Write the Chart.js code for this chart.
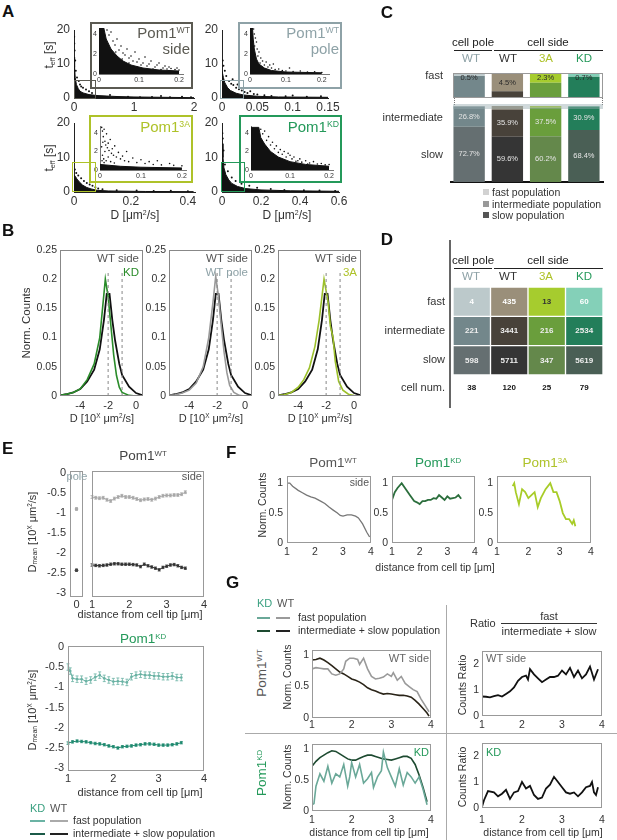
<!DOCTYPE html>
<html>
<head>
<meta charset="utf-8">
<title>Pom1 mobility</title>
<script src="https://cdn.jsdelivr.net/npm/chart.js@4.4.1/dist/chart.umd.min.js"></script>
<style>
  body { margin: 0; background: #fff; }
  #fig { position: relative; width: 617px; height: 840px; overflow: hidden; background: #fff;
         font-family: 'Liberation Sans', Arial, sans-serif; color: #333; }
  #fig canvas { position: absolute; }
  .t { position: absolute; white-space: nowrap; line-height: 1; }
  .r { position: absolute; box-sizing: border-box; }
  sup { font-size: .58em; vertical-align: .55em; line-height: 0; }
  sub { font-size: .6em; vertical-align: -.25em; line-height: 0; }
</style>
</head>
<body>
<div id="fig"></div>
<script>
// ---------- A: t_eff vs D (core = outline of the saturated cloud, pts = stray points) ----------
const aTicksT = [0, 10, 20];
const aTicksSide = [0, 1, 2];
const aTicksPole = [0, 0.05, 0.1, 0.15];
const aTicks3A = [0, 0.2, 0.4];
const aTicksKD = [0, 0.2, 0.4, 0.6];
const aInsetTicksT = [0, 2, 4];
const aInsetTicksD = [0, 0.1, 0.2];

const aSideCore = [[0,12],[0.01,9],[0.02,6],[0.04,4],[0.07,2.8],[0.1,2],[0.15,1.5],[0.25,1],[0.4,0.7],[0.7,0.45],[1.0,0.3],[1.5,0.2],[2.0,0.1]];
const aSidePts = [[0.003,18],[0.005,16],[0.01,14],[0.02,11],[0.03,8],[0.05,6],[0.08,5],[0.1,4],[0.12,3.4],[0.15,3],[0.2,2.5],[0.25,2],[0.3,1.5],[0.5,0.3],[0.6,0.9],[0.7,0.2],[0.9,0.4],[1.1,0.2],[1.3,0.3],[1.45,0.6],[1.6,0.2],[1.8,0.4],[1.95,0.2]];
const aPoleCore = [[0,8],[0.002,6],[0.004,4.5],[0.008,3],[0.012,2.2],[0.02,1.4],[0.03,0.9],[0.05,0.5],[0.08,0.3],[0.15,0.2]];
const aPolePts = [[0.001,11],[0.002,9.5],[0.004,8],[0.006,6.5],[0.01,5],[0.015,5.5],[0.013,4.2],[0.016,3.8],[0.022,4],[0.02,3],[0.024,2.6],[0.028,2.2],[0.032,1.8],[0.036,1.5],[0.04,2],[0.045,1.2],[0.05,1],[0.06,0.8],[0.07,0.6],[0.09,0.5],[0.1,0.7],[0.12,0.4],[0.14,0.5]];
const a3ACore = [[0,5],[0.005,4.5],[0.01,3.8],[0.02,2.8],[0.03,2],[0.045,1.3],[0.06,0.9],[0.08,0.5],[0.12,0.3],[0.25,0.15],[0.42,0.1]];
const a3APts = [[0.003,6.5],[0.008,5.5],[0.015,4.8],[0.025,4],[0.035,3.2],[0.045,2.6],[0.055,2.2],[0.065,1.8],[0.075,1.4],[0.085,1],[0.1,0.8],[0.15,0.5],[0.22,0.4],[0.28,0.3],[0.34,0.35],[0.4,0.25]];
const aKDCore = [[0,14],[0.005,10],[0.01,7],[0.02,5],[0.035,3.5],[0.05,2.5],[0.08,1.6],[0.12,1],[0.2,0.6],[0.35,0.35],[0.6,0.2]];
const aKDPts = [[0.002,17],[0.004,15.5],[0.008,12],[0.015,8],[0.03,6],[0.05,4.2],[0.07,3.2],[0.1,2.4],[0.14,1.8],[0.18,1.2],[0.25,0.9],[0.32,0.6],[0.42,0.5],[0.5,0.4],[0.58,0.3]];

const aSideInCore = [[0,4.6],[0.012,4.6],[0.018,3.5],[0.03,2.5],[0.045,1.8],[0.06,1.3],[0.08,0.9],[0.11,0.6],[0.15,0.4],[0.2,0.3]];
const aSideInPts = [[0.02,4.4],[0.025,3.9],[0.03,4.2],[0.035,3.3],[0.04,2.9],[0.045,3.5],[0.05,2.4],[0.055,2.8],[0.06,2.1],[0.065,1.9],[0.07,2.5],[0.075,1.6],[0.08,1.8],[0.085,1.3],[0.09,2.2],[0.095,1.2],[0.1,1.5],[0.105,0.9],[0.11,1.1],[0.115,1.7],[0.12,0.8],[0.125,1.0],[0.13,1.3],[0.14,0.7],[0.145,0.9],[0.15,1.1],[0.16,0.6],[0.165,0.8],[0.17,0.5],[0.175,0.7],[0.18,0.55],[0.19,0.45],[0.195,0.6],[0.2,0.4],[0.135,0.5],[0.155,0.45],[0.095,0.7],[0.075,1.1],[0.058,1.5],[0.042,2.2]];
const aPoleInCore = [[0,4.6],[0.007,4.6],[0.009,3.5],[0.012,2.5],[0.018,1.5],[0.025,1],[0.04,0.6],[0.06,0.35],[0.1,0.2],[0.2,0.12]];
const aPoleInPts = [[0.01,4.5],[0.012,4],[0.015,3.6],[0.018,3.2],[0.013,2.8],[0.02,2.5],[0.025,2.2],[0.022,1.8],[0.03,1.6],[0.035,1.3],[0.028,1.1],[0.04,0.9],[0.045,1.2],[0.05,0.7],[0.06,0.6],[0.055,0.9],[0.07,0.45],[0.08,0.5],[0.09,0.35],[0.1,0.3],[0.12,0.25],[0.14,0.3],[0.16,0.2],[0.18,0.22],[0.2,0.15],[0.11,0.6],[0.065,1.0]];
const a3AInCore = [[0,0.6],[0.05,0.4],[0.1,0.3],[0.2,0.22]];
const a3AInPts = [[0.004,4.6],[0.006,4.2],[0.008,3.6],[0.01,4.4],[0.012,3.1],[0.014,2.7],[0.016,3.9],[0.018,2.4],[0.02,2.9],[0.022,2.1],[0.025,3.3],[0.028,1.8],[0.03,2.3],[0.033,1.6],[0.036,2.6],[0.04,1.4],[0.045,1.9],[0.05,1.2],[0.055,1.5],[0.06,1.0],[0.065,2.0],[0.07,0.9],[0.08,1.3],[0.09,0.8],[0.1,1.1],[0.11,0.7],[0.12,0.9],[0.13,0.6],[0.14,1.0],[0.15,0.55],[0.17,0.7],[0.18,0.5],[0.2,0.45],[0.006,1.6],[0.009,1.2],[0.012,2.0],[0.015,1.0],[0.02,1.4],[0.026,0.9],[0.035,0.75],[0.004,2.5],[0.007,3.0],[0.005,1.0],[0.01,0.8]];
const aKDInCore = [[0,4.6],[0.02,4.6],[0.025,3.5],[0.035,2.8],[0.05,2],[0.07,1.4],[0.1,0.9],[0.14,0.6],[0.2,0.4]];
const aKDInPts = [[0.025,4.4],[0.03,3.9],[0.035,4.2],[0.04,3.2],[0.045,3.6],[0.05,2.7],[0.055,3.0],[0.06,2.3],[0.065,2.6],[0.07,1.9],[0.075,2.2],[0.08,1.7],[0.085,2.0],[0.09,1.4],[0.1,1.6],[0.105,1.2],[0.11,1.4],[0.12,1.0],[0.125,1.2],[0.13,0.85],[0.14,1.0],[0.15,0.75],[0.16,0.9],[0.17,0.65],[0.18,0.7],[0.19,0.55],[0.2,0.6],[0.115,0.95],[0.145,0.65],[0.095,1.8]];

// ---------- B: normalised histograms of log10 D ----------
const bTicksX = [-4, -2, 0];
const bTicksY = [0, 0.05, 0.1, 0.15, 0.2, 0.25];
const bSide = [[-5.45,0.001],[-5,0.003],[-4.5,0.006],[-4,0.012],[-3.5,0.025],[-3,0.045],[-2.6,0.08],[-2.3,0.13],[-2.1,0.175],[-1.9,0.175],[-1.7,0.13],[-1.5,0.095],[-1.2,0.055],[-1,0.036],[-0.5,0.016],[0,0.005],[0.5,0.001]];
const bKD = [[-5.45,0.001],[-5,0.003],[-4.5,0.006],[-4,0.012],[-3.5,0.028],[-3,0.055],[-2.6,0.1],[-2.4,0.15],[-2.2,0.2],[-2,0.17],[-1.8,0.12],[-1.6,0.07],[-1.4,0.035],[-1.2,0.015],[-1,0.006],[-0.5,0.001],[0,0]];
const bPole = [[-5.45,0.001],[-5,0.002],[-4.5,0.005],[-4,0.01],[-3.5,0.022],[-3,0.05],[-2.6,0.1],[-2.3,0.16],[-2.1,0.205],[-1.9,0.17],[-1.7,0.12],[-1.5,0.075],[-1.3,0.04],[-1.1,0.018],[-0.8,0.006],[-0.4,0.001],[0,0]];
const b3A = [[-5.45,0.001],[-5,0.002],[-4.5,0.006],[-4,0.015],[-3.6,0.028],[-3.2,0.048],[-2.8,0.085],[-2.5,0.13],[-2.3,0.17],[-2.15,0.2],[-2,0.18],[-1.85,0.16],[-1.7,0.12],[-1.5,0.1],[-1.35,0.06],[-1.1,0.025],[-0.8,0.01],[-0.4,0.003],[0,0.001]];
const bCutSlow = [[-2,0],[-2,0.215]];
const bCutFast = [[-1,0],[-1,0.215]];

// ---------- C / D: populations per condition (WT pole, WT side, 3A, KD) ----------
const condNames = ['WT', 'WT', '3A', 'KD'];
const fastPct = [0.5, 4.5, 2.3, 0.7];
const intPct = [26.8, 35.9, 37.5, 30.9];
const slowPct = [72.7, 59.6, 60.2, 68.4];
const fastN = [4, 435, 13, 60];
const intN = [221, 3441, 216, 2534];
const slowN = [598, 5711, 347, 5619];
const cellNum = [38, 120, 25, 79];
const popRows = ['slow', 'intermediate', 'fast'];

// ---------- E: D_mean along the cell (log10 units) ----------
const eTicksY = [0, -0.5, -1, -1.5, -2, -2.5, -3];
const eTicksX = [1, 2, 3, 4];
const eTicksPole = [0];
const ePoleFast = [[0,-0.9]];
const ePoleSlow = [[0,-2.43]];
const eWTfast = [[1.0,-0.6],[1.1,-0.62],[1.2,-0.63],[1.3,-0.62],[1.4,-0.67],[1.5,-0.7],[1.6,-0.64],[1.7,-0.6],[1.8,-0.57],[1.9,-0.6],[2.0,-0.6],[2.1,-0.62],[2.2,-0.65],[2.3,-0.68],[2.4,-0.66],[2.5,-0.65],[2.6,-0.67],[2.7,-0.64],[2.8,-0.6],[2.9,-0.57],[3.0,-0.56],[3.1,-0.56],[3.2,-0.55],[3.3,-0.55],[3.4,-0.53],[3.5,-0.48]];
const eWTslow = [[1.0,-2.3],[1.1,-2.31],[1.2,-2.32],[1.3,-2.31],[1.4,-2.3],[1.5,-2.28],[1.6,-2.27],[1.7,-2.27],[1.8,-2.28],[1.9,-2.28],[2.0,-2.28],[2.1,-2.29],[2.2,-2.3],[2.3,-2.34],[2.4,-2.28],[2.5,-2.32],[2.6,-2.35],[2.7,-2.38],[2.8,-2.42],[2.9,-2.36],[3.0,-2.33],[3.1,-2.3],[3.2,-2.29],[3.3,-2.32],[3.4,-2.36],[3.5,-2.38]];
const eKDfast = [[1.0,-0.5],[1.05,-0.6],[1.1,-0.78],[1.2,-0.8],[1.3,-0.8],[1.4,-0.85],[1.5,-0.82],[1.6,-0.75],[1.7,-0.7],[1.8,-0.78],[1.9,-0.82],[2.0,-0.86],[2.1,-0.85],[2.2,-0.86],[2.3,-0.88],[2.4,-0.74],[2.5,-0.7],[2.6,-0.68],[2.7,-0.7],[2.8,-0.7],[2.9,-0.72],[3.0,-0.72],[3.1,-0.74],[3.2,-0.74],[3.3,-0.72],[3.4,-0.76],[3.5,-0.76]];
const eKDslow = [[1.0,-2.38],[1.1,-2.35],[1.2,-2.33],[1.3,-2.34],[1.4,-2.35],[1.5,-2.37],[1.6,-2.39],[1.7,-2.4],[1.8,-2.42],[1.9,-2.45],[2.0,-2.47],[2.1,-2.5],[2.2,-2.47],[2.3,-2.46],[2.4,-2.45],[2.5,-2.43],[2.6,-2.42],[2.7,-2.4],[2.8,-2.4],[2.9,-2.41],[3.0,-2.43],[3.1,-2.43],[3.2,-2.43],[3.3,-2.42],[3.4,-2.4],[3.5,-2.37]];
const eErrWTfast = 0.035, eErrWTslow = 0.03, eErrKDfast = 0.08, eErrKDslow = 0.03;

// ---------- F: normalised counts along the cell ----------
const fTicksY = [0, 0.5, 1];
const fTicksX = [1, 2, 3, 4];
const fWT = [[1,1],[1.1,1],[1.2,0.95],[1.4,0.88],[1.55,0.84],[1.7,0.8],[1.85,0.77],[2.0,0.75],[2.2,0.7],[2.35,0.66],[2.5,0.6],[2.65,0.55],[2.8,0.5],[2.9,0.46],[3.0,0.45],[3.15,0.47],[3.3,0.47],[3.45,0.45],[3.55,0.42],[3.7,0.32],[3.85,0.18],[3.95,0.1]];
const fKD = [[1.0,0.72],[1.1,0.85],[1.2,0.92],[1.35,1.0],[1.5,0.9],[1.65,0.8],[1.8,0.7],[1.9,0.68],[2.0,0.65],[2.1,0.7],[2.2,0.7],[2.3,0.72],[2.4,0.72],[2.5,0.75],[2.6,0.74],[2.7,0.8],[2.8,0.76],[2.9,0.72],[3.0,0.78],[3.1,0.74],[3.2,0.75],[3.3,0.76],[3.4,0.8],[3.5,0.74]];
const f3A = [[1.5,0.95],[1.55,1.0],[1.6,0.85],[1.7,0.65],[1.8,0.9],[1.9,0.85],[2.0,0.75],[2.1,0.8],[2.2,0.85],[2.3,0.6],[2.4,0.75],[2.55,0.9],[2.7,1.0],[2.8,0.85],[2.9,0.85],[3.0,0.7],[3.1,0.5],[3.2,0.4],[3.3,0.4],[3.4,0.32],[3.45,0.38],[3.5,0.28]];

// ---------- G: fast vs intermediate+slow along the cell, and their ratio ----------
const gTicksY = [0, 0.5, 1];
const gTicksRatio = [0, 1, 2];
const gTicksX = [1, 2, 3, 4];
const gWTslow = [[1,0.92],[1.1,0.93],[1.2,0.95],[1.3,0.92],[1.4,0.88],[1.5,0.83],[1.6,0.78],[1.7,0.73],[1.8,0.7],[1.9,0.66],[2.0,0.62],[2.1,0.6],[2.2,0.57],[2.3,0.53],[2.4,0.48],[2.5,0.45],[2.6,0.43],[2.7,0.4],[2.8,0.38],[2.9,0.39],[3.0,0.38],[3.1,0.37],[3.2,0.36],[3.3,0.36],[3.4,0.35],[3.5,0.33],[3.6,0.28],[3.7,0.22],[3.8,0.15],[3.9,0.08],[3.95,0.03]];
const gWTfast = [[1,0.78],[1.1,0.8],[1.2,0.79],[1.3,0.78],[1.4,0.78],[1.5,0.7],[1.6,0.68],[1.7,0.7],[1.8,0.78],[1.85,0.9],[1.95,0.95],[2.05,0.95],[2.15,0.93],[2.2,0.85],[2.3,0.95],[2.4,0.78],[2.5,0.66],[2.6,0.62],[2.7,0.63],[2.8,0.65],[2.9,0.7],[3.0,0.66],[3.05,0.72],[3.15,0.6],[3.25,0.66],[3.35,0.55],[3.45,0.5],[3.55,0.45],[3.65,0.42],[3.75,0.3],[3.85,0.2],[3.95,0.1]];
const gKDslow = [[1,0.72],[1.1,0.8],[1.2,0.86],[1.3,0.9],[1.4,0.94],[1.5,0.97],[1.6,0.96],[1.7,0.92],[1.8,0.88],[1.9,0.84],[2.0,0.82],[2.1,0.82],[2.2,0.85],[2.3,0.88],[2.4,0.9],[2.5,0.9],[2.6,0.88],[2.7,0.86],[2.8,0.84],[2.9,0.83],[3.0,0.82],[3.1,0.84],[3.2,0.86],[3.3,0.88],[3.4,0.88],[3.5,0.85],[3.6,0.75],[3.7,0.58],[3.8,0.38],[3.9,0.15]];
const gKDfast = [[1,0.1],[1.05,0.12],[1.1,0.4],[1.2,0.6],[1.3,0.48],[1.4,0.72],[1.5,0.45],[1.6,0.6],[1.7,0.55],[1.8,0.75],[1.9,0.4],[1.95,0.55],[2.0,0.78],[2.1,0.55],[2.2,0.75],[2.3,0.45],[2.4,0.52],[2.5,0.62],[2.55,0.38],[2.65,0.55],[2.75,0.65],[2.8,0.95],[2.9,0.7],[3.0,0.55],[3.1,0.4],[3.2,0.68],[3.3,0.42],[3.4,0.62],[3.5,0.55],[3.6,0.45],[3.7,0.55],[3.8,0.35],[3.9,0.1]];
const gWTratio = [[1,0.75],[1.1,0.74],[1.2,0.72],[1.3,0.76],[1.4,0.8],[1.5,0.75],[1.6,0.85],[1.7,0.95],[1.8,1.1],[1.9,1.35],[2.0,1.5],[2.1,1.55],[2.15,1.4],[2.2,1.8],[2.3,1.6],[2.4,1.45],[2.5,1.3],[2.6,1.4],[2.7,1.5],[2.8,1.5],[2.9,1.55],[3.0,1.75],[3.1,1.6],[3.2,1.85],[3.3,1.5],[3.4,1.75],[3.5,1.45],[3.6,1.6],[3.7,1.9],[3.8,1.4],[3.9,1.8]];
const gKDratio = [[1,0.05],[1.05,0.3],[1.15,0.65],[1.3,0.6],[1.4,0.45],[1.5,0.55],[1.6,0.7],[1.7,0.35],[1.8,0.6],[1.9,0.65],[2.0,1.0],[2.1,0.75],[2.2,0.85],[2.3,0.5],[2.4,0.35],[2.5,0.4],[2.6,0.75],[2.7,0.9],[2.8,1.2],[2.9,1.0],[3.0,0.8],[3.1,0.6],[3.2,0.55],[3.3,0.6],[3.4,0.45],[3.5,0.6],[3.6,0.8],[3.7,0.85],[3.75,1.0],[3.8,0.6],[3.85,0.5],[3.9,0.8]];

// ---------- colours ----------
const colWTpole = '#8ea2a7', colWTside = '#5b5a52', col3A = '#aec229', colKD = '#24995a';
const fastCol = ['#bcc9cb', '#9a8f7a', '#a6cc2e', '#84d0b8'];
const intCol = ['#73878b', '#48423a', '#6a9e3c', '#237e5a'];
const slowCol = ['#656f71', '#353535', '#64884b', '#4a5f55'];

Chart.defaults.font.family = "'Liberation Sans', Arial, sans-serif";
Chart.defaults.color = '#333';

// box around the plotting area (MATLAB style)
Chart.register({
  id: 'frame',
  afterDraw(chart, args, o) {
    if (!o.color) return;
    const {ctx, chartArea: a} = chart;
    ctx.save();
    ctx.strokeStyle = o.color;
    ctx.lineWidth = 1;
    ctx.strokeRect(a.left + 0.5, a.top + 0.5, a.width - 1, a.height - 1);
    ctx.restore();
  },
});

// symmetric error bars for datasets carrying an `err` value
Chart.register({
  id: 'errBars',
  afterDatasetsDraw(chart) {
    const {ctx} = chart;
    const ys = chart.scales.y;
    chart.data.datasets.forEach((ds, i) => {
      if (!ds.err) return;
      ctx.save();
      ctx.strokeStyle = ds.borderColor;
      ctx.lineWidth = 0.8;
      chart.getDatasetMeta(i).data.forEach((pt, j) => {
        const v = ds.data[j].y;
        const a = ys.getPixelForValue(v + ds.err), b = ys.getPixelForValue(v - ds.err);
        ctx.beginPath();
        ctx.moveTo(pt.x, a); ctx.lineTo(pt.x, b);
        ctx.moveTo(pt.x - 1.5, a); ctx.lineTo(pt.x + 1.5, a);
        ctx.moveTo(pt.x - 1.5, b); ctx.lineTo(pt.x + 1.5, b);
        ctx.stroke();
      });
      ctx.restore();
    });
  },
});

// text in the middle of each (visible part of a) bar segment
Chart.register({
  id: 'tags',
  afterDatasetsDraw(chart) {
    const {ctx, chartArea: a} = chart;
    chart.data.datasets.forEach((ds, i) => {
      if (!ds.tags) return;
      chart.getDatasetMeta(i).data.forEach((bar, j) => {
        const top = Math.max(Math.min(bar.y, bar.base), a.top);
        const bot = Math.min(Math.max(bar.y, bar.base), a.bottom);
        if (bot <= top) return;
        const y = Math.max((top + bot) / 2, a.top + 4);
        ctx.save();
        ctx.font = ds.tagFont;
        ctx.fillStyle = Array.isArray(ds.tagColor) ? ds.tagColor[j] : ds.tagColor;
        ctx.textAlign = 'center';
        ctx.textBaseline = 'middle';
        ctx.fillText(ds.tags[j], bar.x, y);
        ctx.restore();
      });
    });
  },
});

const fig = document.getElementById('fig');

function txt(x, y, html, o = {}) {
  const d = document.createElement('div');
  d.className = 't';
  d.innerHTML = html;
  const tx = o.a === 'l' ? '0' : o.a === 'r' ? '-100%' : '-50%';
  d.style.cssText += `left:${x}px;top:${y}px;font-size:${o.s || 11}px;color:${o.c || '#333'};` +
    `font-weight:${o.b ? 'bold' : 'normal'};transform:translate(${tx},-50%)${o.rot ? ' rotate(-90deg)' : ''}`;
  fig.appendChild(d);
}

function rect(x, y, w, h, css) {
  const d = document.createElement('div');
  d.className = 'r';
  d.style.cssText += `left:${x}px;top:${y}px;width:${w}px;height:${h}px;${css}`;
  fig.appendChild(d);
}

// area = plotting box on the page [x0, y0, x1, y1]; m = room for axes [left, top, right, bottom]
function place(area, m, config) {
  const [x0, y0, x1, y1] = area, [ml, mt, mr, mb] = m;
  const w = x1 - x0 + ml + mr, h = y1 - y0 + mt + mb;
  const c = document.createElement('canvas');
  c.width = w; c.height = h;
  c.style.left = (x0 - ml) + 'px';
  c.style.top = (y0 - mt) + 'px';
  fig.appendChild(c);
  const o = config.options;
  o.responsive = false;
  o.animation = false;
  o.events = [];
  o.layout = {autoPadding: false, padding: {left: 0, top: mt, right: mr, bottom: 0}};
  o.plugins = Object.assign({legend: {display: false}, tooltip: {enabled: false}}, o.plugins);
  o.scales.x.afterFit = s => { s.height = mb; s.paddingLeft = 0; s.paddingRight = 0; };
  o.scales.y.afterFit = s => { s.width = ml; s.paddingTop = 0; s.paddingBottom = 0; };
  return new Chart(c, config);
}

function lin(min, max, ticks, o = {}) {
  return {
    type: 'linear', min, max,
    grid: {display: false, drawTicks: false},
    border: {display: !!o.bc, color: o.bc, width: o.bw || 1},
    ticks: {
      display: ticks.length > 0, autoSkip: false, maxRotation: 0, padding: o.pad ?? 3,
      font: {size: o.fs || 11}, color: '#333',
      callback: v => String(v),
    },
    afterBuildTicks: s => { s.ticks = ticks.map(v => ({value: v})); },
  };
}

const pts = a => a.map(([x, y]) => ({x, y}));
function line(a, color, w, extra = {}) {
  return Object.assign({data: pts(a), showLine: true, borderColor: color, borderWidth: w,
    pointRadius: 0, fill: false, tension: 0}, extra);
}
function dots(a, color, r) {
  return {data: pts(a), showLine: false, pointRadius: r, pointBorderWidth: 0,
    pointBackgroundColor: color, backgroundColor: color};
}

function scat(area, m, xr, yr, xt, yt, core, stray, o) {
  return place(area, m, {
    type: 'scatter',
    data: {datasets: [
      line(core, '#111', 1, {fill: 'origin', backgroundColor: '#111'}),
      dots(stray, '#111', o.r),
    ]},
    options: {scales: {
      x: lin(xr[0], xr[1], xt, {fs: o.fs, pad: o.px, bc: o.bc}),
      y: lin(yr[0], yr[1], yt, {fs: o.fs, pad: o.py, bc: o.bc}),
    }},
  });
}

// ================= A =================
const mainOpt = {fs: 12, px: 2, py: 4, bc: '#222', r: 1};
const inOpt = {fs: 7, px: 1.5, py: 2, bc: '#777', r: 0.8};
scat([74, 30, 194, 98], [30, 6, 12, 18], [0, 2], [0, 20], aTicksSide, aTicksT, aSideCore, aSidePts, mainOpt);
scat([222, 30, 328, 98], [30, 6, 14, 18], [0, 0.15], [0, 20], aTicksPole, aTicksT, aPoleCore, aPolePts, mainOpt);
scat([74, 123, 195, 192], [30, 6, 12, 18], [0, 0.425], [0, 20], aTicks3A, aTicksT, a3ACore, a3APts, mainOpt);
scat([222, 123, 339, 192], [30, 6, 12, 18], [0, 0.6], [0, 20], aTicksKD, aTicksT, aKDCore, aKDPts, mainOpt);

rect(90, 22, 103, 67, `background:#fff;border:2px solid ${colWTside}`);
rect(238, 22, 104, 67, `background:#fff;border:2px solid ${colWTpole}`);
rect(89, 115, 104, 68, `background:#fff;border:2px solid ${col3A}`);
rect(239, 115, 103, 68, `background:#fff;border:2px solid ${colKD}`);

scat([99, 28, 183, 74], [9, 4, 8, 10], [0, 0.21], [0, 4.6], aInsetTicksD, aInsetTicksT, aSideInCore, aSideInPts, inOpt);
scat([250, 28, 329, 74], [9, 4, 8, 10], [0, 0.22], [0, 4.6], aInsetTicksD, aInsetTicksT, aPoleInCore, aPoleInPts, inOpt);
scat([100, 126, 186, 170], [9, 4, 8, 10], [0, 0.21], [0, 4.75], aInsetTicksD, aInsetTicksT, a3AInCore, a3AInPts, inOpt);
scat([251, 126, 333, 170], [9, 4, 8, 10], [0, 0.21], [0, 4.75], aInsetTicksD, aInsetTicksT, aKDInCore, aKDInPts, inOpt);

rect(74, 80, 22, 19, `border:1.5px solid ${colWTside}`);
rect(220, 80, 24, 19, `border:1.5px solid ${colWTpole}`);
rect(72, 162, 24, 30, `border:1.5px solid ${col3A}`);
rect(221, 162, 24, 30, `border:1.5px solid ${colKD}`);

txt(2, 11, 'A', {a: 'l', s: 17, b: 1, c: '#111'});
txt(49, 55, 't<sub>eff</sub> [s]', {rot: 1, s: 12});
txt(49, 158, 't<sub>eff</sub> [s]', {rot: 1, s: 12});
txt(135, 215, 'D [μm<sup>2</sup>/s]', {s: 12});
txt(287, 215, 'D [μm<sup>2</sup>/s]', {s: 12});
txt(190, 32, 'Pom1<sup>WT</sup>', {a: 'r', s: 15, c: colWTside});
txt(190, 48, 'side', {a: 'r', s: 15, c: colWTside});
txt(339, 32, 'Pom1<sup>WT</sup>', {a: 'r', s: 15, c: colWTpole});
txt(339, 48, 'pole', {a: 'r', s: 15, c: colWTpole});
txt(190, 126, 'Pom1<sup>3A</sup>', {a: 'r', s: 15, c: col3A});
txt(339, 126, 'Pom1<sup>KD</sup>', {a: 'r', s: 15, c: colKD});

// ================= B =================
function bPlot(area, other, otherColor) {
  return place(area, [30, 8, 6, 20], {
    type: 'scatter',
    data: {datasets: [
      line(bCutSlow, '#888', 1, {borderDash: [3, 3]}),
      line(bCutFast, '#888', 1, {borderDash: [3, 3]}),
      line(other, otherColor, 1.6),
      line(bSide, '#111', 1.8),
    ]},
    options: {
      plugins: {frame: {color: '#888'}},
      scales: {x: lin(-5.45, 0.5, bTicksX, {fs: 11, pad: 3}), y: lin(0, 0.25, bTicksY, {fs: 10.5, pad: 3})},
    },
  });
}
bPlot([60, 250, 143, 396], bKD, '#2a8c2a');
bPlot([169, 250, 252, 396], bPole, '#999');
bPlot([278, 250, 361, 396], b3A, '#9cc02a');

txt(2, 230, 'B', {a: 'l', s: 17, b: 1, c: '#111'});
txt(27, 323, 'Norm. Counts', {rot: 1, s: 11.5});
[102, 211, 320].forEach(x => txt(x, 418, 'D [10<sup>X</sup> μm<sup>2</sup>/s]', {s: 11}));
txt(139, 259, 'WT side', {a: 'r', s: 11.5, c: '#555'});
txt(139, 273, 'KD', {a: 'r', s: 11.5, c: '#2a8c2a'});
txt(248, 259, 'WT side', {a: 'r', s: 11.5, c: '#555'});
txt(248, 273, 'WT pole', {a: 'r', s: 11.5, c: colWTpole});
txt(357, 259, 'WT side', {a: 'r', s: 11.5, c: '#555'});
txt(357, 273, '3A', {a: 'r', s: 11.5, c: col3A});

// ================= C =================
function cBars(area, ymin, tagged) {
  const pct = v => v + '%';
  const mk = (vals, col, key) => ({
    data: vals, backgroundColor: col, borderWidth: 0, stack: 's',
    barPercentage: 0.82, categoryPercentage: 1,
    tags: tagged[key] ? vals.map(pct) : undefined,
    tagColor: tagged[key], tagFont: '7.5px "Liberation Sans", Arial, sans-serif',
  });
  return place(area, [0, 2, 2, ymin === 0 ? 3 : 2], {
    type: 'bar',
    data: {labels: condNames, datasets: [
      mk(slowPct, slowCol, 'slow'), mk(intPct, intCol, 'int'), mk(fastPct, fastCol, 'fast'),
    ]},
    options: {scales: {
      x: {type: 'category', stacked: true, grid: {display: false, drawTicks: false},
          border: {display: ymin === 0, color: '#111', width: 2}, ticks: {display: false}},
      y: {type: 'linear', stacked: true, min: ymin, max: 100, grid: {display: false, drawTicks: false},
          border: {display: false}, ticks: {display: false}},
    }},
  });
}
cBars([450, 74, 603, 97], 94, {fast: '#2a2a2a'});
cBars([450, 106, 603, 182], 0, {int: '#e4e4e4', slow: '#e4e4e4'});
rect(453, 73, 150, 25, 'border:1px solid #999');
rect(454, 98, 1, 7, 'border-left:1px dotted #777');
rect(602, 98, 1, 7, 'border-left:1px dotted #777');
rect(453, 104, 150, 5, 'background:rgba(150,170,176,0.45)');

txt(387, 12, 'C', {s: 17, b: 1, c: '#111'});
function colHeads(y) {
  txt(473, y, 'cell pole', {s: 11.5, c: '#222'});
  rect(454, y + 7, 38, 1, 'background:#222');
  txt(548, y, 'cell side', {s: 11.5, c: '#222'});
  rect(494, y + 7, 109, 1, 'background:#222');
  const cc = [colWTpole, '#333', col3A, colKD];
  [471, 508, 546, 584].forEach((x, i) => txt(x, y + 16, condNames[i], {s: 11.5, c: cc[i]}));
}
colHeads(43);
txt(443, 75, 'fast', {a: 'r', s: 11});
txt(443, 117, 'intermediate', {a: 'r', s: 11});
txt(443, 154, 'slow', {a: 'r', s: 11});
[['fast population', '#d2d2d2'], ['intermediate population', '#999'], ['slow population', '#555']]
  .forEach(([s, c], i) => {
    rect(483, 189 + i * 11.5, 6, 6, 'background:' + c);
    txt(492, 192 + i * 11.5, s, {a: 'l', s: 10.5, c: '#333'});
  });

// ================= D =================
const dFont = 'bold 8px "Liberation Sans", Arial, sans-serif';
const dCell = (n, col, tc) => ({
  data: n.map(() => 1), backgroundColor: col, borderColor: '#fff', borderWidth: 1, borderSkipped: false,
  stack: 's', barPercentage: 1, categoryPercentage: 1,
  tags: n.map(String), tagColor: tc, tagFont: dFont,
});
place([453, 287, 603, 375], [80, 2, 4, 20], {
  type: 'bar',
  data: {labels: cellNum.map(String), datasets: [
    dCell(slowN, slowCol, '#eee'),
    dCell(intN, intCol, '#eee'),
    dCell(fastN, fastCol, ['#fff', '#fff', '#333', '#fff']),
  ]},
  options: {scales: {
    x: {type: 'category', stacked: true, grid: {display: false, drawTicks: false}, border: {display: false},
        ticks: {padding: 8, font: {size: 8, weight: 'bold'}, color: '#111'}},
    y: {type: 'linear', stacked: true, min: 0, max: 3, grid: {display: false, drawTicks: false},
        border: {display: false},
        ticks: {padding: 8, font: {size: 11}, color: '#333', callback: v => popRows[Math.floor(v)]},
        afterBuildTicks: s => { s.ticks = popRows.map((r, i) => ({value: i + 0.5})); }},
  }},
});
txt(387, 239, 'D', {s: 17, b: 1, c: '#111'});
rect(449, 240, 1.5, 168, 'background:#666');
colHeads(261);
txt(445, 387, 'cell num.', {a: 'r', s: 11});

// ================= E =================
const eLine = (a, c, err) => line(a, c, 1, {pointRadius: 1.3, pointBorderWidth: 0, pointBackgroundColor: c, err});
place([70, 471, 83, 597], [40, 6, 6, 16], {
  type: 'scatter',
  data: {datasets: [
    Object.assign(dots(ePoleFast, '#aaa', 1.8), {borderColor: '#aaa', err: eErrWTfast}),
    Object.assign(dots(ePoleSlow, '#444', 1.8), {borderColor: '#444', err: eErrWTslow}),
  ]},
  options: {plugins: {frame: {color: '#999'}}, scales: {
    x: lin(-0.6, 0.6, eTicksPole, {fs: 11, pad: 1}),
    y: lin(-3.1, 0.05, eTicksY, {fs: 11, pad: 4}),
  }},
});
place([92, 471, 204, 597], [2, 6, 10, 16], {
  type: 'scatter',
  data: {datasets: [eLine(eWTfast, '#a8a8a8', eErrWTfast), eLine(eWTslow, '#333', eErrWTslow)]},
  options: {plugins: {frame: {color: '#999'}}, scales: {
    x: lin(1, 4, eTicksX, {fs: 11, pad: 1}),
    y: lin(-3.1, 0.05, [], {}),
  }},
});
place([68, 646, 204, 771], [40, 6, 10, 16], {
  type: 'scatter',
  data: {datasets: [eLine(eKDfast, '#6bb3a4', eErrKDfast), eLine(eKDslow, '#1f8a70', eErrKDslow)]},
  options: {plugins: {frame: {color: '#999'}}, scales: {
    x: lin(1, 4, eTicksX, {fs: 11, pad: 1}),
    y: lin(-3.07, 0.02, eTicksY, {fs: 11, pad: 4}),
  }},
});
txt(2, 448, 'E', {a: 'l', s: 17, b: 1, c: '#111'});
txt(143, 456, 'Pom1<sup>WT</sup>', {s: 13.5, c: '#444'});
txt(77, 476, 'pole', {s: 11, c: colWTpole});
txt(202, 476, 'side', {a: 'r', s: 11, c: '#555'});
txt(32, 532, 'D<sub>mean</sub> [10<sup>X</sup> μm<sup>2</sup>/s]', {rot: 1, s: 11});
txt(140, 614, 'distance from cell tip [μm]', {s: 11});
txt(143, 639, 'Pom1<sup>KD</sup>', {s: 13.5, c: colKD});
txt(32, 710, 'D<sub>mean</sub> [10<sup>X</sup> μm<sup>2</sup>/s]', {rot: 1, s: 11});
txt(140, 792, 'distance from cell tip [μm]', {s: 11});
txt(30, 808, 'KD', {a: 'l', s: 11, c: '#3aa080'});
txt(50, 808, 'WT', {a: 'l', s: 11, c: '#555'});
rect(30, 820, 15, 1.5, 'background:#6bb3a4');
rect(50, 820, 18, 1.5, 'background:#aaa');
rect(30, 833, 15, 1.5, 'background:#1b5a48');
rect(50, 833, 18, 1.5, 'background:#222');
txt(73, 820, 'fast population', {a: 'l', s: 10.5});
txt(73, 833, 'intermediate + slow population', {a: 'l', s: 10.5});

// ================= F =================
function fPlot(area, a, color, w) {
  return place(area, [18, 6, 8, 16], {
    type: 'scatter',
    data: {datasets: [line(a, color, w)]},
    options: {plugins: {frame: {color: '#999'}}, scales: {
      x: lin(1, 4, fTicksX, {fs: 10.5, pad: 3}),
      y: lin(0, 1.12, fTicksY, {fs: 10.5, pad: 4}),
    }},
  });
}
fPlot([287, 476, 371, 543], fWT, '#777', 1.3);
fPlot([392, 476, 475, 543], fKD, '#2b6e3c', 1.8);
fPlot([497, 476, 591, 543], f3A, '#a8cc28', 1.8);
txt(226, 452, 'F', {a: 'l', s: 17, b: 1, c: '#111'});
txt(333, 463, 'Pom1<sup>WT</sup>', {s: 13.5, c: '#555'});
txt(438, 463, 'Pom1<sup>KD</sup>', {s: 13.5, c: colKD});
txt(545, 463, 'Pom1<sup>3A</sup>', {s: 13.5, c: col3A});
txt(369, 482, 'side', {a: 'r', s: 10.5, c: '#555'});
txt(262, 505, 'Norm. Counts', {rot: 1, s: 10.5});
txt(435, 567, 'distance from cell tip [μm]', {s: 10.5});

// ================= G =================
function gPlot(area, sets, ymax, yt, xpad) {
  return place(area, [18, 6, 8, 16], {
    type: 'scatter',
    data: {datasets: sets},
    options: {plugins: {frame: {color: '#999'}}, scales: {
      x: lin(1, 4, gTicksX, {fs: 10.5, pad: xpad}),
      y: lin(0, ymax, yt, {fs: 10.5, pad: 3}),
    }},
  });
}
gPlot([312, 650, 431, 718], [line(gWTfast, '#9a9a9a', 1.6), line(gWTslow, '#2a2418', 1.6)], 1.08, gTicksY, 1);
gPlot([312, 744, 431, 811], [line(gKDfast, '#6aa898', 1.6), line(gKDslow, '#1d4a30', 1.6)], 1.08, gTicksY, 3);
gPlot([482, 651, 602, 716], [line(gWTratio, '#111', 1.8)], 2.5, gTicksRatio, 3);
gPlot([482, 743, 602, 808], [line(gKDratio, '#111', 1.8)], 2.5, gTicksRatio, 6);

txt(226, 582, 'G', {a: 'l', s: 17, b: 1, c: '#111'});
txt(257, 603, 'KD', {a: 'l', s: 11, c: '#3aa080'});
txt(277, 603, 'WT', {a: 'l', s: 11, c: '#555'});
rect(257, 617, 13, 1.5, 'background:#6aa898');
rect(276, 617, 14, 1.5, 'background:#9a9a9a');
rect(257, 630, 13, 1.5, 'background:#1d4a30');
rect(276, 630, 14, 1.5, 'background:#222');
txt(298, 617, 'fast population', {a: 'l', s: 10.5});
txt(298, 630, 'intermediate + slow population', {a: 'l', s: 10.5});
rect(446, 605, 1, 235, 'background:#aaa');
rect(245, 733, 372, 1, 'background:#aaa');
txt(470, 623, 'Ratio', {a: 'l', s: 11});
txt(549, 616, 'fast', {s: 11});
rect(501, 623, 96, 1, 'background:#333');
txt(549, 631, 'intermediate + slow', {s: 11});
txt(262, 673, 'Pom1<sup>WT</sup>', {rot: 1, s: 13.5, c: '#555'});
txt(287, 677, 'Norm. Counts', {rot: 1, s: 10.5});
txt(262, 773, 'Pom1<sup>KD</sup>', {rot: 1, s: 13.5, c: colKD});
txt(287, 777, 'Norm. Counts', {rot: 1, s: 10.5});
txt(429, 658, 'WT side', {a: 'r', s: 11, c: '#666'});
txt(429, 752, 'KD', {a: 'r', s: 11, c: colKD});
txt(462, 685, 'Counts Ratio', {rot: 1, s: 10.5});
txt(462, 777, 'Counts Ratio', {rot: 1, s: 10.5});
txt(486, 658, 'WT side', {a: 'l', s: 11, c: '#666'});
txt(486, 752, 'KD', {a: 'l', s: 11, c: colKD});
txt(369, 832, 'distance from cell tip [μm]', {s: 10.5});
txt(543, 832, 'distance from cell tip [μm]', {s: 10.5});
</script>
</body>
</html>
